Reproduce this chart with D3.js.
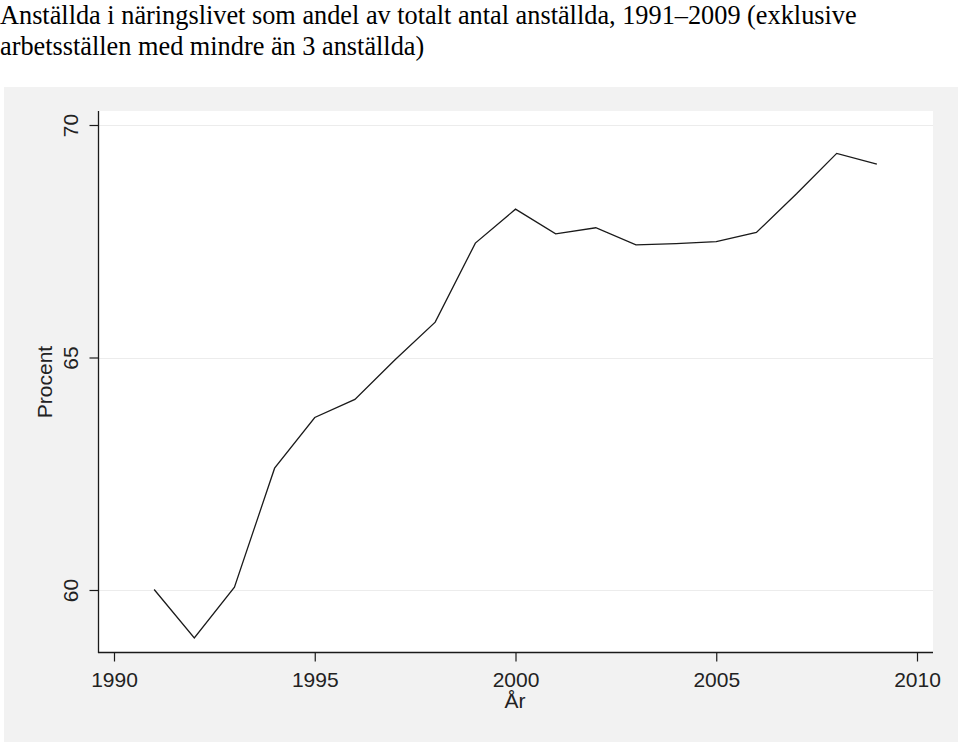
<!DOCTYPE html>
<html>
<head>
<meta charset="utf-8">
<script src="https://cdn.jsdelivr.net/npm/d3@7"></script>
<style>
  html, body { margin: 0; padding: 0; background: #ffffff; }
  svg { display: block; }
</style>
</head>
<body>
<svg id="chart" width="960" height="742"></svg>
<script>
const titleLines = [
  "Anställda i näringslivet som andel av totalt antal anställda, 1991–2009 (exklusive",
  "arbetsställen med mindre än 3 anställda)"
];
const years = [1991,1992,1993,1994,1995,1996,1997,1998,1999,2000,2001,2002,2003,2004,2005,2006,2007,2008,2009];
const values = [60.01,58.97,60.06,62.62,63.71,64.10,64.95,65.76,67.46,68.19,67.66,67.79,67.42,67.45,67.49,67.69,68.52,69.39,69.16];
const xTicks = [1990,1995,2000,2005,2010];
const yTicks = [60,65,70];
const xLabel = "År";
const yLabel = "Procent";

const svg = d3.select("#chart");
const W = 960, H = 742;
const plot = {left: 99, right: 933, top: 111, bottom: 653};

// outer gray graph region
svg.append("rect").attr("x", 4).attr("y", 87).attr("width", 954).attr("height", H - 87)
  .attr("fill", "#f2f2f2");
// white plot region
svg.append("rect").attr("x", plot.left).attr("y", plot.top)
  .attr("width", plot.right - plot.left).attr("height", plot.bottom - plot.top)
  .attr("fill", "#ffffff");

const x = d3.scaleLinear().domain([1990, 2010]).range([114, 917]);
const y = d3.scaleLinear().domain([60, 70]).range([590, 125]);

// gridlines
svg.append("g").selectAll("line").data(yTicks).join("line")
  .attr("x1", plot.left).attr("x2", plot.right)
  .attr("y1", d => Math.round(y(d)) + 0.5).attr("y2", d => Math.round(y(d)) + 0.5)
  .attr("stroke", "#ececec").attr("stroke-width", 1);

// y axis
const yAxis = svg.append("g").attr("transform", `translate(${plot.left - 0.5},0)`)
  .call(d3.axisLeft(y).tickValues(yTicks).tickSize(9).tickFormat(d3.format("d")));
yAxis.select(".domain").attr("d", `M0,${plot.top}V${plot.bottom}`).attr("stroke", "#1a1a1a").attr("stroke-width", 1.3);
yAxis.selectAll(".tick line").attr("stroke", "#1a1a1a").attr("stroke-width", 1.2);
yAxis.selectAll(".tick text")
  .attr("font-family", "'Liberation Sans', Arial, sans-serif").attr("font-size", 21)
  .attr("fill", "#222")
  .attr("x", null).attr("dy", null)
  .attr("text-anchor", "middle")
  .attr("transform", "translate(-21,0) rotate(-90)");

// x axis
const xAxis = svg.append("g").attr("transform", `translate(0,${plot.bottom - 0.5})`)
  .call(d3.axisBottom(x).tickValues(xTicks).tickSize(9).tickFormat(d3.format("d")));
xAxis.select(".domain").attr("d", `M${plot.left - 1},0H${plot.right}`).attr("stroke", "#1a1a1a").attr("stroke-width", 1.3);
xAxis.selectAll(".tick line").attr("stroke", "#1a1a1a").attr("stroke-width", 1.2);
xAxis.selectAll(".tick text")
  .attr("font-family", "'Liberation Sans', Arial, sans-serif").attr("font-size", 21)
  .attr("fill", "#222")
  .attr("y", 34).attr("dy", null);

// axis titles
svg.append("text").attr("x", 515).attr("y", 708).attr("text-anchor", "middle")
  .attr("font-family", "'Liberation Sans', Arial, sans-serif").attr("font-size", 21)
  .attr("fill", "#222").text(xLabel);
svg.append("text").attr("transform", `translate(52,${(plot.top + plot.bottom) / 2}) rotate(-90)`)
  .attr("text-anchor", "middle")
  .attr("font-family", "'Liberation Sans', Arial, sans-serif").attr("font-size", 21)
  .attr("fill", "#222").text(yLabel);

// line
const line = d3.line().x((d, i) => x(years[i])).y(d => y(d));
svg.append("path").datum(values).attr("d", line)
  .attr("fill", "none").attr("stroke", "#1a1a1a").attr("stroke-width", 1.3)
  .attr("stroke-linejoin", "miter");

// title
svg.append("g").selectAll("text").data(titleLines).join("text")
  .attr("x", 0).attr("y", (d, i) => 23.5 + i * 31.5)
  .attr("font-family", "'Liberation Serif', 'Times New Roman', serif").attr("font-size", 26.3)
  .attr("fill", "#000").text(d => d);
</script>
</body>
</html>
